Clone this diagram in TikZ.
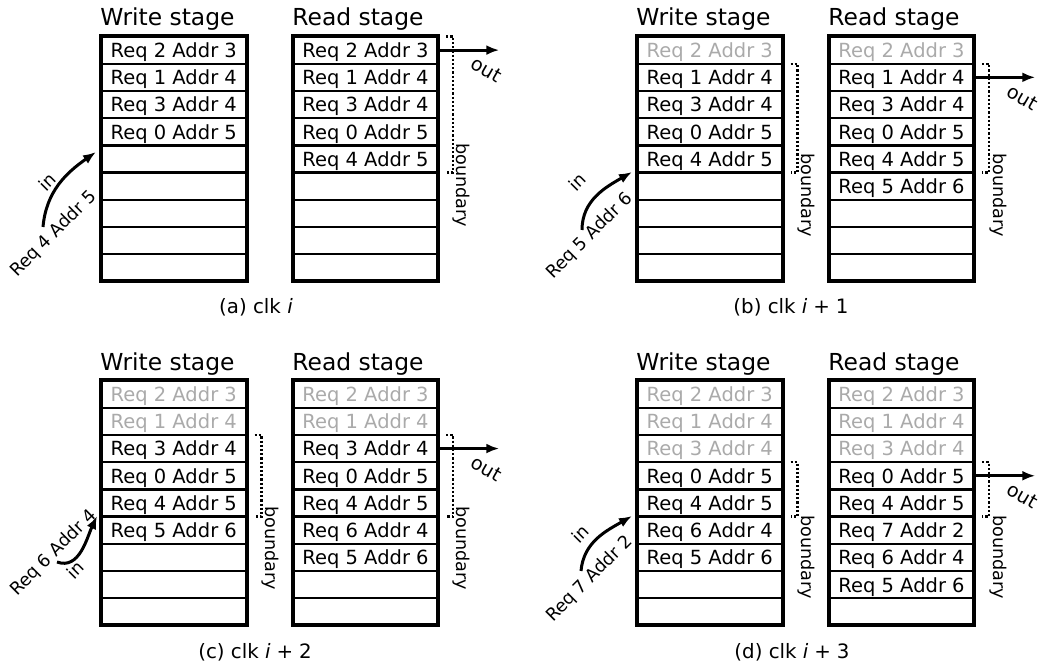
\documentclass[tikz,border=0pt]{standalone}
\usepackage{fontspec}
\setmainfont{DejaVu Sans}
\usetikzlibrary{calc,arrows.meta}
\definecolor{faded}{RGB}{170,170,170}
\tikzset{
  cell/.style={draw, line width=1.2pt, minimum width=72.75pt, minimum height=13.61pt,
    inner sep=0pt, outer sep=0pt, text depth=0pt, font=\fontsize{9.75}{11}\selectfont},
  frame/.style={line width=2pt},
  title/.style={anchor=base west, inner sep=0pt, font=\fontsize{11.7}{13}\selectfont},
  caption/.style={inner sep=0pt, font=\fontsize{9.9}{11}\selectfont},
  side/.style={inner sep=0pt, font=\fontsize{8.8}{10}\selectfont},
  outlabel/.style={inner sep=0pt, font=\fontsize{9.6}{11}\selectfont},
  bound/.style={line width=1.2pt, dash pattern=on 1.1pt off 1pt},
  flow/.style={line width=1.5pt, -{Latex[length=6.5pt,width=5pt]}},
}
\newcommand\fifocol[5]{%
  \foreach \t [count=\k] in {#5} {%
    \ifnum\k>#4\relax \def\tc{black}\else\def\tc{faded}\fi
    \node[cell, text=\tc] (#1\k) at ({#2}, {#3+(\k-0.5)*27.22}) {\t};
  }%
  \draw[frame] (#11.north west) rectangle (#19.south east);
}
\begin{document}
\begin{tikzpicture}[x=0.5pt,y=-0.5pt]
\useasboundingbox (0,0) rectangle (1040,668);

% ---------------- (a) ----------------
\fifocol{aw}{173.75}{36.5}{0}{Req 2 Addr 3, Req 1 Addr 4, Req 3 Addr 4, Req 0 Addr 5, {}, {}, {}, {}, {}}
\fifocol{ar}{365.5}{36.5}{0}{Req 2 Addr 3, Req 1 Addr 4, Req 3 Addr 4, Req 0 Addr 5, Req 4 Addr 5, {}, {}, {}, {}}
\node[title] (awt) at (100,26) {Write stage};
\node[title] (art) at (292,26) {Read stage};
\coordinate (aoutend) at ($(ar1.east)+(61,0)$);
\draw[flow] (ar1.east) -- (aoutend);
\node[outlabel, rotate=-30] (aout) at ($(aoutend)+(-13,20)$) {out};
\draw[bound] ($(ar1.north east)+(8,0)$) -| ($(ar5.south east)+(15,0)$) -- ($(ar5.south east)+(8,0)$);
\node[side, rotate=-90] (arb) at (461,185) {boundary};
\coordinate (ains) at (43,227);
\coordinate (aine) at (96,152);
\draw[flow] (ains) to[out=85,in=215] (aine);
\node[side, rotate=45] (ainl) at (54,234) {Req 4 Addr 5};
\node[side, rotate=45] (ain) at (47,182) {in};
\node[caption] (acap) at (256,307) {(a) clk \textit{i}};

% ---------------- (b) ----------------
\fifocol{bw}{709.75}{36.5}{1}{Req 2 Addr 3, Req 1 Addr 4, Req 3 Addr 4, Req 0 Addr 5, Req 4 Addr 5, {}, {}, {}, {}}
\fifocol{br}{901.5}{36.5}{1}{Req 2 Addr 3, Req 1 Addr 4, Req 3 Addr 4, Req 0 Addr 5, Req 4 Addr 5, Req 5 Addr 6, {}, {}, {}}
\node[title] (bwt) at (636,26) {Write stage};
\node[title] (brt) at (828,26) {Read stage};
\coordinate (boutend) at ($(br2.east)+(61,0)$);
\draw[flow] (br2.east) -- (boutend);
\node[outlabel, rotate=-30] (bout) at ($(boutend)+(-13,20)$) {out};
\draw[bound] ($(bw2.north east)+(8,0)$) -| ($(bw5.south east)+(15,0)$) -- ($(bw5.south east)+(8,0)$);
\node[side, rotate=-90] (bwb) at (806,195) {boundary};
\draw[bound] ($(br2.north east)+(8,0)$) -| ($(br5.south east)+(15,0)$) -- ($(br5.south east)+(8,0)$);
\node[side, rotate=-90] (brb) at (998,195) {boundary};
\coordinate (bins) at (582,230);
\coordinate (bine) at (632,172);
\draw[flow] (bins) to[out=90,in=210] (bine);
\node[side, rotate=45] (binl) at (590,236) {Req 5 Addr 6};
\node[side, rotate=45] (bin) at (577,182) {in};
\node[caption] (bcap) at (791,307) {(b) clk \textit{i}\hspace{0.3em}+\hspace{0.3em}1};

% ---------------- (c) ----------------
\fifocol{cw}{173.75}{380.5}{2}{Req 2 Addr 3, Req 1 Addr 4, Req 3 Addr 4, Req 0 Addr 5, Req 4 Addr 5, Req 5 Addr 6, {}, {}, {}}
\fifocol{cr}{365.5}{380.5}{2}{Req 2 Addr 3, Req 1 Addr 4, Req 3 Addr 4, Req 0 Addr 5, Req 4 Addr 5, Req 6 Addr 4, Req 5 Addr 6, {}, {}}
\node[title] (cwt) at (100,371) {Write stage};
\node[title] (crt) at (292,371) {Read stage};
\coordinate (coutend) at ($(cr3.east)+(61,0)$);
\draw[flow] (cr3.east) -- (coutend);
\node[outlabel, rotate=-30] (cout) at ($(coutend)+(-13,20)$) {out};
\draw[bound] ($(cw3.north east)+(8,0)$) -| ($(cw5.south east)+(15,0)$) -- ($(cw5.south east)+(8,0)$);
\node[side, rotate=-90] (cwb) at (270,548) {boundary};
\draw[bound] ($(cr3.north east)+(8,0)$) -| ($(cr5.south east)+(15,0)$) -- ($(cr5.south east)+(8,0)$);
\node[side, rotate=-90] (crb) at (461,548) {boundary};
\coordinate (cins) at (57,562);
\coordinate (cine) at (97,516);
\draw[flow] (cins) to[out=-20,in=245] (cine);
\node[side, rotate=45] (cinl) at (54,553) {Req 6 Addr 4};
\node[side, rotate=45] (cin) at (75,570) {in};
\node[caption] (ccap) at (255,652) {(c) clk \textit{i}\hspace{0.3em}+\hspace{0.3em}2};

% ---------------- (d) ----------------
\fifocol{dw}{709.75}{380.5}{3}{Req 2 Addr 3, Req 1 Addr 4, Req 3 Addr 4, Req 0 Addr 5, Req 4 Addr 5, Req 6 Addr 4, Req 5 Addr 6, {}, {}}
\fifocol{dr}{901.5}{380.5}{3}{Req 2 Addr 3, Req 1 Addr 4, Req 3 Addr 4, Req 0 Addr 5, Req 4 Addr 5, Req 7 Addr 2, Req 6 Addr 4, Req 5 Addr 6, {}}
\node[title] (dwt) at (636,371) {Write stage};
\node[title] (drt) at (828,371) {Read stage};
\coordinate (doutend) at ($(dr4.east)+(61,0)$);
\draw[flow] (dr4.east) -- (doutend);
\node[outlabel, rotate=-30] (dout) at ($(doutend)+(-13,20)$) {out};
\draw[bound] ($(dw4.north east)+(8,0)$) -| ($(dw5.south east)+(15,0)$) -- ($(dw5.south east)+(8,0)$);
\node[side, rotate=-90] (dwb) at (806,557) {boundary};
\draw[bound] ($(dr4.north east)+(8,0)$) -| ($(dr5.south east)+(15,0)$) -- ($(dr5.south east)+(8,0)$);
\node[side, rotate=-90] (drb) at (998,557) {boundary};
\coordinate (dins) at (581,571);
\coordinate (dine) at (632,516);
\draw[flow] (dins) to[out=85,in=210] (dine);
\node[side, rotate=45] (dinl) at (590,579) {Req 7 Addr 2};
\node[side, rotate=45] (din) at (580,534) {in};
\node[caption] (dcap) at (792,652) {(d) clk \textit{i}\hspace{0.3em}+\hspace{0.3em}3};
\end{tikzpicture}
\end{document}
